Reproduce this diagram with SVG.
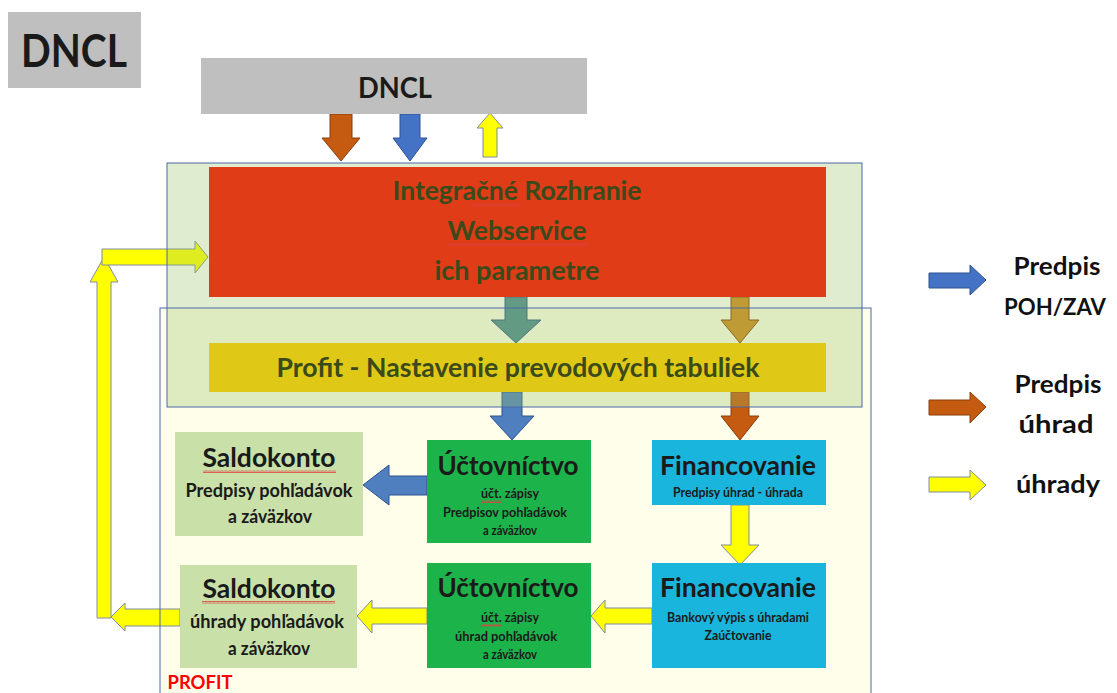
<svg xmlns="http://www.w3.org/2000/svg" width="1117" height="693" viewBox="0 0 1117 693">
<style>
.t{font-family:Lato,"Liberation Sans",sans-serif;font-weight:bold;text-anchor:middle}
.dk{fill:#1a1a1a}
.ol{fill:#3a4a1a}
.h{font-size:27px}
.s{font-size:13.5px}
.m{font-size:18px}
.lg{font-size:25px;fill:#111}
.blue{fill:#4472c4;stroke:#2f528f;stroke-width:1}
.brown{fill:#c55a11;stroke:#8a3f0c;stroke-width:1}
.yel{fill:#ffff00;stroke:#7f8ca0;stroke-width:1}
</style>
<defs>
<pattern id="wavy" patternUnits="userSpaceOnUse" width="4" height="3">
<path d="M0 2.5 L1 0.5 L2 2.5 L3 0.5 L4 2.5" fill="none" stroke="#e04040" stroke-width="0.8"/>
</pattern>
</defs>
<rect width="1117" height="693" fill="#ffffff"/>

<g id="profit-region-fill">
<rect x="160" y="308" width="711" height="400" fill="#fefeea"/>
</g>

<g id="connectors">
<polygon class="brown" points="330,114 352,114 352,138 360,138 341,161 322,138 330,138"/>
<polygon class="blue" points="400,114 420,114 420,138 427,138 410,161 393,138 400,138"/>
<polygon class="yel" points="483,157 497,157 497,128 503,128 490,113 477,128 483,128"/>
<polygon class="blue" points="505,297 527,297 527,320 541,320 516,343 491,320 505,320" style="fill:#4a8890"/>
<polygon class="brown" points="731,297 749,297 749,320 759,320 740,343 721,320 731,320" style="fill:#cf8a1e"/>
<polygon class="blue" points="502,392 522,392 522,416 534,416 512,440 490,416 502,416" style="fill:#4f7fbf"/>
<polygon class="brown" points="731,392 749,392 749,416 759,416 740,440 721,416 731,416"/>
<polygon class="blue" points="427,476 389,476 389,465 363,485 389,505 389,495 427,495" style="fill:#4f7fbf"/>
<polygon class="yel" points="731,505 749,505 749,545 759,545 740,565 721,545 731,545"/>
<polygon class="yel" points="652,608 605,608 605,600 591,616 605,633 605,624 652,624"/>
<polygon class="yel" points="427,608 372,608 372,600 357,616 372,633 372,624 427,624"/>
<polygon class="yel" points="180,609 125,609 125,603 111,617 125,631 125,626 180,626"/>
<polygon class="yel" points="97,618 111,618 111,282 118,282 104,257 90,282 97,282"/>
<polygon class="yel" points="102,249 195,249 195,241 208,257 195,273 195,265 102,265"/>
</g>

<g id="integration-layer">
<rect x="167" y="163" width="695" height="244" fill="#99c266" fill-opacity="0.314" stroke="#4a68a8" stroke-width="1"/>
</g>

<g id="profit-region-border">
<rect x="160" y="308" width="711" height="400" fill="none" stroke="#4a68a8" stroke-width="1"/>
<text class="t" x="200" y="689" style="font-size:19px;fill:#ff0000" textLength="65" lengthAdjust="spacingAndGlyphs">PROFIT</text>
</g>

<g id="dncl-title">
<rect x="8" y="12" width="133" height="76" fill="#bfbfbf"/>
<text class="t dk" x="74" y="67" style="font-size:45px" textLength="106" lengthAdjust="spacingAndGlyphs">DNCL</text>
</g>

<g id="dncl">
<rect x="201" y="58" width="386" height="56" fill="#bfbfbf"/>
<text class="t dk" x="395" y="98" style="font-size:28px" textLength="74" lengthAdjust="spacingAndGlyphs">DNCL</text>
</g>

<g id="integracne-rozhranie">
<rect x="209" y="167" width="617" height="130" fill="#e03c17"/>
<text class="t ol h" x="517" y="200" textLength="249" lengthAdjust="spacingAndGlyphs">Integračné Rozhranie</text>
<text class="t ol h" x="517" y="240" textLength="139" lengthAdjust="spacingAndGlyphs">Webservice</text>
<text class="t ol h" x="517" y="280" textLength="165" lengthAdjust="spacingAndGlyphs">ich parametre</text>
<rect x="472" y="203" width="48" height="3" fill="url(#wavy)"/>
<rect x="448" y="243" width="140" height="3" fill="url(#wavy)"/>
</g>

<g id="prevodove-tabulky">
<rect x="209" y="343" width="617" height="49" fill="#e0c816"/>
<text class="t ol h" x="518" y="377" textLength="483" lengthAdjust="spacingAndGlyphs">Profit - Nastavenie prevodových tabuliek</text>
</g>

<g id="saldokonto-predpisy">
<rect x="175" y="432" width="188" height="104" fill="#c9e0a9"/>
<text class="t dk h" x="269" y="467" textLength="133" lengthAdjust="spacingAndGlyphs">Saldokonto</text>
<rect x="203" y="470" width="133" height="3" fill="url(#wavy)"/>
<text class="t dk m" x="269" y="497" textLength="167" lengthAdjust="spacingAndGlyphs">Predpisy pohľadávok</text>
<text class="t dk m" x="270" y="523" textLength="84" lengthAdjust="spacingAndGlyphs">a záväzkov</text>
</g>

<g id="uctovnictvo-predpisy">
<rect x="427" y="440" width="164" height="103" fill="#1db34b"/>
<text class="t dk h" x="508" y="475" textLength="141" lengthAdjust="spacingAndGlyphs">Účtovníctvo</text>
<text class="t dk s" x="510" y="498" textLength="58" lengthAdjust="spacingAndGlyphs">účt. zápisy</text>
<rect x="481" y="500" width="20" height="3" fill="url(#wavy)"/>
<text class="t dk s" x="505" y="517" textLength="124" lengthAdjust="spacingAndGlyphs">Predpisov pohľadávok</text>
<text class="t dk s" x="510" y="535" textLength="54" lengthAdjust="spacingAndGlyphs">a záväzkov</text>
</g>

<g id="financovanie-predpisy">
<rect x="652" y="440" width="174" height="65" fill="#19b5dc"/>
<text class="t dk h" x="738" y="475" textLength="156" lengthAdjust="spacingAndGlyphs">Financovanie</text>
<text class="t dk s" x="738" y="497" textLength="130" lengthAdjust="spacingAndGlyphs">Predpisy úhrad - úhrada</text>
</g>

<g id="saldokonto-uhrady">
<rect x="180" y="565" width="177" height="103" fill="#c9e0a9"/>
<text class="t dk h" x="269" y="598" textLength="133" lengthAdjust="spacingAndGlyphs">Saldokonto</text>
<rect x="202" y="601" width="133" height="3" fill="url(#wavy)"/>
<text class="t dk m" x="267" y="628" textLength="154" lengthAdjust="spacingAndGlyphs">úhrady pohľadávok</text>
<text class="t dk m" x="269" y="655" textLength="82" lengthAdjust="spacingAndGlyphs">a záväzkov</text>
</g>

<g id="uctovnictvo-uhrady">
<rect x="427" y="563" width="164" height="105" fill="#1db34b"/>
<text class="t dk h" x="508" y="597" textLength="141" lengthAdjust="spacingAndGlyphs">Účtovníctvo</text>
<text class="t dk s" x="510" y="622" textLength="58" lengthAdjust="spacingAndGlyphs">účt. zápisy</text>
<rect x="481" y="624" width="20" height="3" fill="url(#wavy)"/>
<text class="t dk s" x="506" y="641" textLength="102" lengthAdjust="spacingAndGlyphs">úhrad pohľadávok</text>
<text class="t dk s" x="510" y="659" textLength="54" lengthAdjust="spacingAndGlyphs">a záväzkov</text>
</g>

<g id="financovanie-uhrady">
<rect x="652" y="563" width="174" height="105" fill="#19b5dc"/>
<text class="t dk h" x="738" y="597" textLength="156" lengthAdjust="spacingAndGlyphs">Financovanie</text>
<text class="t dk s" x="738" y="622" textLength="142" lengthAdjust="spacingAndGlyphs">Bankový výpis s úhradami</text>
<text class="t dk s" x="738" y="640" textLength="67" lengthAdjust="spacingAndGlyphs">Zaúčtovanie</text>
</g>

<g id="legend">
<polygon class="blue" points="929,273 970,273 970,265 986,280 970,295 970,288 929,288"/>
<text class="t lg" x="1057" y="275" textLength="87" lengthAdjust="spacingAndGlyphs">Predpis</text>
<text class="t lg" x="1055" y="315" style="font-size:23px" textLength="102" lengthAdjust="spacingAndGlyphs">POH/ZAV</text>
<polygon class="brown" points="929,400 970,400 970,392 986,407 970,423 970,415 929,415"/>
<text class="t lg" x="1058" y="393" textLength="87" lengthAdjust="spacingAndGlyphs">Predpis</text>
<text class="t lg" x="1056" y="433" textLength="75" lengthAdjust="spacingAndGlyphs">úhrad</text>
<polygon class="yel" points="929,477 970,477 970,470 986,485 970,500 970,492 929,492"/>
<text class="t lg" x="1058" y="493" textLength="84" lengthAdjust="spacingAndGlyphs">úhrady</text>
</g>
</svg>
